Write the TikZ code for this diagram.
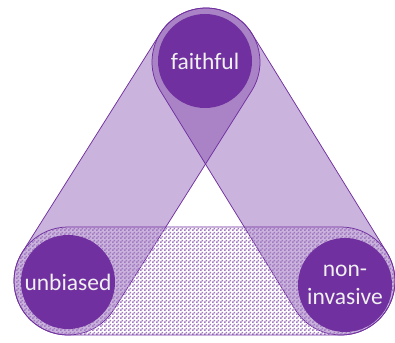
\documentclass[tikz,border=0pt]{standalone}
\usepackage{fontspec}
\setmainfont{Carlito}
\usetikzlibrary{calc,patterns}

\definecolor{plum}{HTML}{7030A0}

% small checkerboard, 2pt squares
\pgfdeclarepatternformonly{checker}{\pgfqpoint{0pt}{0pt}}{\pgfqpoint{4pt}{4pt}}{\pgfqpoint{4pt}{4pt}}{%
  \pgfpathrectangle{\pgfqpoint{0pt}{0pt}}{\pgfqpoint{2pt}{2pt}}%
  \pgfpathrectangle{\pgfqpoint{2pt}{2pt}}{\pgfqpoint{2pt}{2pt}}%
  \pgfusepath{fill}}

\tikzset{
  band/.style={draw=plum, line width=0.75pt, fill=plum, fill opacity=0.37},
  hatchband/.style={draw=plum, line width=0.75pt, pattern=checker, pattern color=plum!65},
  disc/.style={circle, fill=plum, text=white!94!black, minimum size=94pt, inner sep=0pt,
    align=center, font=\fontsize{23.5}{28}\selectfont}
}

% capsule round the segment #2 -- #3
\newcommand{\band}[3]{%
  \path[#1] let \p1=($(#3)-(#2)$), \n1={atan2(\y1,\x1)} in
    ($(#2)+(\n1+90:\rad)$) -- ($(#3)+(\n1+90:\rad)$)
    arc[start angle=\n1+90, delta angle=-180, radius=\rad]
    -- ($(#2)+(\n1-90:\rad)$)
    arc[start angle=\n1-90, delta angle=-180, radius=\rad] -- cycle;}

\begin{document}
\begin{tikzpicture}[x=1pt, y=1pt]

\pgfmathsetmacro{\rad}{54}

\useasboundingbox (0, 0) rectangle (395, 342);

\coordinate (top) at (206, 280);
\coordinate (left) at (68, 61);
\coordinate (right) at (341, 61);

\band{band}{top}{left}
\band{band}{top}{right}
\band{hatchband}{left}{right}

\node[disc] (faithful) at (205, 281) {faithful};
\node[disc] (unbiased) at (68, 60) {unbiased};
\node[disc] (noninvasive) at (345, 57) {non-\\invasive};
\end{tikzpicture}
\end{document}
